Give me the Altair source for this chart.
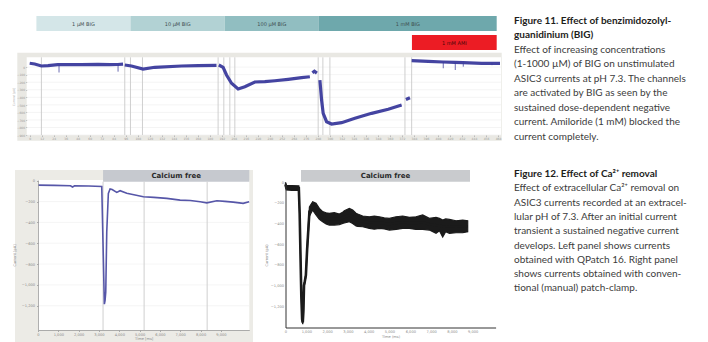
import altair as alt
import pandas as pd

# ---------------- data ----------------
# Figure 11: application bars (recording time, s)
conc_labels = ["1 µM BIG", "10 µM BIG", "100 µM BIG", "1 mM BIG"]
conc_start = [6.7, 100.7, 195, 289]
conc_end = [100.7, 195, 289, 466.7]
conc_colors = ["#d4e6e8", "#b2d2d4", "#91bec1", "#6ea8ac"]
ami_labels = ["1 mM AMI"]
ami_start = [382]
ami_end = [466.7]

# Figure 11: QPatch current trace, per sweep (time s, current pA)
s1_t = [0, 5, 11.7, 18.3, 28, 35, 51.7, 68.3, 80, 88, 93.3]
s1_v = [50, 40, 14, 18, 31, 31, 31, 36, 31, 34, 40]
s2_t = [95, 101.7, 113.3, 125, 151.7, 168.3, 186.7]
s2_v = [27, 14, -26, -3, 14, 18, 23]
s3_t = [189, 193.3, 196.7, 201.7, 208.3, 215, 225, 235, 245, 258.3, 271.7, 280]
s3_v = [27, -3, -105, -215, -291, -260, -198, -194, -181, -162, -141, -128]
s3b_t = [282.5, 284.5, 287]
s3b_v = [-75, -55, -80]
s4_t = [290, 291.7, 293.3, 296.7, 301.7, 311.7, 325, 341.7, 358.3, 371.7]
s4_v = [-172, -437, -613, -724, -755, -737, -679, -613, -560, -503]
s4b_t = [376, 380]
s4b_v = [-430, -406]
s5_t = [381.7, 398.3, 413, 425, 433, 451.7, 470]
s5_v = [84, 76, 67, 63, 60, 50, 50]
# brief downward spikes (time, baseline, tip)
spike_t = [29.3, 88.3, 413.3, 425.3, 433.3, 462]
spike_base = [31, 34, 67, 63, 60, 55]
spike_tip = [-72, -61, -16, -39, 5, 25]
top_sweep_lines = [11.7, 95, 100.7, 112.7, 188.3, 194, 200, 205, 288.3, 293, 300, 375, 381.7]
top_yticks = [0, -100, -200, -300, -400, -500, -600, -700, -800, -900]

# Figure 12 left: QPatch 16 (time ms, current pA)
bl_t = [0, 800, 1600, 1700, 1800, 2500, 3138, 3200, 3266, 3300, 3335, 3384, 3463, 3547, 3650,
        3877, 4039, 4369, 5187, 5700, 6340, 6995, 7500, 7980, 8310, 8803, 9200, 9606, 10099, 10394]
bl_v = [-42, -45, -48, -60, -48, -50, -55, -600, -1185, -1150, -1067, -490, -121, -80, -85,
        -112, -96, -121, -154, -160, -169, -186, -190, -202, -212, -192, -198, -205, -217, -202]
bl_sweep_lines = [3202, 5222, 8325]
bl_ca_free = [3202, 10400]

# Figure 12 right: manual patch-clamp (time ms, current pA; noisy band upper/lower edge)
br_t = [0, 40, 300, 640, 680, 720, 760, 800, 830, 860, 890, 930, 980, 1040, 1100, 1150, 1306,
        1466, 1627, 1787, 1950, 2107, 2348, 2588, 2749, 2829, 3069, 3229, 3390, 3470, 3710, 4031,
        4270, 4512, 4750, 4992, 5313, 5633, 5954, 6274, 6595, 6915, 7236, 7400, 7557, 7700, 7877,
        8198, 8518, 8759]
br_mid = [-20, -55, -55, -55, -300, -700, -1100, -1330, -1360, -1250, -1000, -960, -900, -650,
          -450, -285, -228, -260, -306, -333, -350, -358, -355, -359, -344, -335, -318, -335, -362,
          -368, -379, -390, -392, -390, -398, -406, -395, -387, -393, -395, -387, -406, -417, -420,
          -430, -428, -427, -431, -427, -426]
br_hi = [0, -30, -32, -35, -285, -685, -1085, -1315, -1345, -1235, -985, -945, -885, -620, -410,
         -240, -188, -204, -253, -285, -295, -301, -295, -308, -290, -275, -253, -269, -300, -308,
         -327, -334, -328, -334, -345, -350, -334, -327, -340, -334, -317, -350, -340, -350, -366,
         -355, -360, -373, -366, -373]
br_lo = [-40, -75, -78, -75, -315, -715, -1115, -1345, -1375, -1265, -1015, -975, -915, -680,
         -490, -330, -269, -317, -360, -382, -405, -415, -415, -410, -398, -395, -382, -400, -424,
         -428, -431, -447, -455, -447, -452, -463, -457, -447, -447, -457, -457, -463, -495, -470,
         -530, -480, -495, -489, -489, -479]
br_ca_free = [745, 8870]
ms_ticks = [0, 1000, 2000, 3000, 4000, 5000, 6000, 7000, 8000, 9000]
pa_ticks = [0, -200, -400, -600, -800, -1000, -1200]

fig11_title = ["Figure 11. Effect of benzimidozolyl-", "guanidinium (BIG)"]
fig11_body = ["Effect of increasing concentrations", "(1-1000 µM) of BIG on unstimulated",
              "ASIC3 currents at pH 7.3. The channels", "are activated by BIG as seen by the",
              "sustained dose-dependent negative", "current. Amiloride (1 mM) blocked the",
              "current completely."]
fig12_title = ["Figure 12. Effect of Ca²⁺ removal"]
fig12_body = ["Effect of extracellular Ca²⁺ removal on", "ASIC3 currents recorded at an extracel-",
              "lular pH of 7.3. After an initial current", "transient a sustained negative current",
              "develops. Left panel shows currents", "obtained with QPatch 16. Right panel",
              "shows currents obtained with conven-", "tional (manual) patch-clamp."]

# ---------------- chart ----------------
W, H = 692, 334
one = pd.DataFrame({"k": [0]})
FONT = "DejaVu Sans"


def box(x0, y0, x1, y1, color, **kw):
    # page pixel layout boxes (panel backgrounds)
    return alt.Chart(one).mark_rect(color=color, **kw).encode(
        x=alt.value(x0 - 8), x2=alt.value(x1 - 8), y=alt.value(y0 - 8), y2=alt.value(y1 - 8))


def sc(domain, rng):
    return alt.Scale(domain=domain, range=rng, nice=False, zero=False)


top_x = lambda: sc([-3, 471], [18.7, 493])
top_y = lambda: sc([-900, 120], [127, 50])
bl_x = lambda: sc([0, 10400], [30, 241.3])
bl_y = lambda: sc([-1433, 7], [322, 172])
br_x = lambda: sc([0, 10100], [277.5, 487.6])
br_y = lambda: sc([-1408, 0], [319.5, 174.3])

layers = []

# ---- Figure 11 ----
conc_df = pd.DataFrame({"label": conc_labels, "start": conc_start, "end": conc_end, "color": conc_colors})
layers.append(alt.Chart(conc_df).mark_rect().encode(
    x=alt.X("start:Q", scale=top_x(), axis=None), x2="end:Q",
    y=alt.value(8), y2=alt.value(23), color=alt.Color("color:N", scale=None)))
layers.append(alt.Chart(conc_df).mark_text(fontSize=5, font=FONT, color="#3f4f51").transform_calculate(
    mid="(datum.start + datum.end) / 2").encode(
    x=alt.X("mid:Q", scale=top_x(), axis=None), y=alt.value(15.5), text="label:N"))
ami_df = pd.DataFrame({"label": ami_labels, "start": ami_start, "end": ami_end})
layers.append(alt.Chart(ami_df).mark_rect(color="#ec1c24").encode(
    x=alt.X("start:Q", scale=top_x(), axis=None), x2="end:Q",
    y=alt.value(27), y2=alt.value(42)))
layers.append(alt.Chart(ami_df).mark_text(fontSize=5, font=FONT, color="#4a0608").transform_calculate(
    mid="(datum.start + datum.end) / 2").encode(
    x=alt.X("mid:Q", scale=top_x(), axis=None), y=alt.value(34.5), text="label:N"))

layers.append(box(17.3, 52.7, 501.7, 140.7, "#e9e8e3"))
layers.append(box(26.7, 57.3, 501, 135, "#ffffff"))

tl_df = pd.DataFrame({"v": top_yticks})
layers.append(alt.Chart(tl_df).mark_rule(color="#f1f1f1", strokeWidth=0.8).encode(
    y=alt.Y("v:Q", scale=top_y(), axis=None), x=alt.value(18.7), x2=alt.value(493)))
sl_df = pd.DataFrame({"t": top_sweep_lines})
layers.append(alt.Chart(sl_df).mark_rule(color="#c9c9c9", strokeWidth=0.9).encode(
    x=alt.X("t:Q", scale=top_x(), axis=None), y=alt.value(49.3), y2=alt.value(127)))

rows = []
for name, ts, vs in [("s1", s1_t, s1_v), ("s2", s2_t, s2_v), ("s3", s3_t, s3_v), ("s3b", s3b_t, s3b_v),
                     ("s4", s4_t, s4_v), ("s4b", s4b_t, s4b_v), ("s5", s5_t, s5_v)]:
    for t, v in zip(ts, vs):
        rows.append({"sweep": name, "t": t, "v": v})
top_df = pd.DataFrame(rows)
spk_df = pd.DataFrame({"t": spike_t, "base": spike_base, "tip": spike_tip})
layers.append(alt.Chart(spk_df).mark_rule(color="#5a5aa8", strokeWidth=0.9).encode(
    x=alt.X("t:Q", scale=top_x(), axis=None),
    y=alt.Y("base:Q", scale=top_y(), axis=None), y2="tip:Q"))
layers.append(alt.Chart(top_df).mark_line(color="#3a3a9c", strokeWidth=3.2, opacity=0.95).encode(
    x=alt.X("t:Q", scale=top_x(), axis=alt.Axis(
        orient="bottom", offset=127 - H, values=list(range(0, 471, 12)), labelFontSize=3,
        labelColor="#9a9a9a", labelFont=FONT, tickSize=1.5, tickColor="#bbbbbb", domain=False,
        labelPadding=1, title=None, grid=False, labelOverlap=False, labelFlush=False, zindex=2)),
    y=alt.Y("v:Q", scale=top_y(), axis=alt.Axis(
        orient="left", offset=-18.7, values=top_yticks, labelFontSize=3, labelColor="#9a9a9a",
        labelFont=FONT, tickSize=1, tickColor="#bbbbbb", domain=False, labelPadding=1,
        title="Current [pA]", titleFontSize=3, titleColor="#aaaaaa", titleFont=FONT,
        titleFontWeight="normal", titlePadding=1.5, grid=False, labelOverlap=False,
        labelFlush=False, zindex=2)),
    detail="sweep:N"))

# ---- Figure 12 left (QPatch) ----
layers.append(box(15, 170, 253, 345, "#ecebe6"))
layers.append(box(38, 180, 249.3, 330, "#ffffff"))
bh_df = pd.DataFrame({"label": ["Calcium free"], "start": [bl_ca_free[0]], "end": [bl_ca_free[1]]})
layers.append(alt.Chart(bh_df).mark_rect(color="#c6c9cf").encode(
    x=alt.X("start:Q", scale=bl_x(), axis=None), x2="end:Q", y=alt.value(162), y2=alt.value(173.7)))
layers.append(alt.Chart(bh_df).mark_text(fontSize=7, font=FONT, fontWeight="bold", color="#2a2a2a").transform_calculate(
    mid="(datum.start + datum.end) / 2").encode(
    x=alt.X("mid:Q", scale=bl_x(), axis=None), y=alt.value(168.3), text="label:N"))
bgl_df = pd.DataFrame({"v": pa_ticks[1:]})
layers.append(alt.Chart(bgl_df).mark_rule(color="#f2f2f2", strokeWidth=0.8).encode(
    y=alt.Y("v:Q", scale=bl_y(), axis=None), x=alt.value(30), x2=alt.value(241.3)))
bsl_df = pd.DataFrame({"t": bl_sweep_lines})
layers.append(alt.Chart(bsl_df).mark_rule(color="#cfcfcf", strokeWidth=1).encode(
    x=alt.X("t:Q", scale=bl_x(), axis=None), y=alt.value(173.7), y2=alt.value(322)))
bl_df = pd.DataFrame({"t": bl_t, "v": bl_v})
layers.append(alt.Chart(bl_df).mark_line(color="#5656a8", strokeWidth=1.6).encode(
    x=alt.X("t:Q", scale=bl_x(), axis=alt.Axis(
        orient="bottom", offset=322 - H, values=ms_ticks, labelFontSize=3.6, labelColor="#8a8a8a",
        labelFont=FONT, tickSize=1.5, tickColor="#aaaaaa", domainColor="#9a9a9a", domainWidth=0.8,
        labelPadding=1, title="Time [ms]", titleFontSize=3.6, titleColor="#8a8a8a", titleFont=FONT,
        titleFontWeight="normal", titlePadding=0.5, grid=False, labelOverlap=False, labelFlush=False,
        zindex=2)),
    y=alt.Y("v:Q", scale=bl_y(), axis=alt.Axis(
        orient="left", offset=-30, values=pa_ticks, labelFontSize=3.6, labelColor="#8a8a8a",
        labelFont=FONT, tickSize=1.5, tickColor="#aaaaaa", domainColor="#9a9a9a", domainWidth=0.8,
        labelPadding=2, title="Current [pA]", titleFontSize=3.6, titleColor="#8a8a8a", titleFont=FONT,
        titleFontWeight="normal", titlePadding=5, grid=False, labelOverlap=False, labelFlush=False,
        zindex=2))))

# ---- Figure 12 right (manual patch clamp) ----
rh_df = pd.DataFrame({"label": ["Calcium free"], "start": [br_ca_free[0]], "end": [br_ca_free[1]]})
layers.append(alt.Chart(rh_df).mark_rect(color="#c9cbce").encode(
    x=alt.X("start:Q", scale=br_x(), axis=None), x2="end:Q", y=alt.value(162), y2=alt.value(173.7)))
layers.append(alt.Chart(rh_df).mark_text(fontSize=7, font=FONT, fontWeight="bold", color="#2a2a2a").transform_calculate(
    mid="(datum.start + datum.end) / 2").encode(
    x=alt.X("mid:Q", scale=br_x(), axis=None), y=alt.value(168.3), text="label:N"))
br_df = pd.DataFrame({"t": br_t, "mid": br_mid, "hi": br_hi, "lo": br_lo})
layers.append(alt.Chart(br_df).mark_area(color="#1b1b1b", opacity=1, stroke="#1b1b1b", strokeWidth=1.2).encode(
    x=alt.X("t:Q", scale=br_x(), axis=None),
    y=alt.Y("hi:Q", scale=br_y(), axis=None), y2="lo:Q"))
layers.append(alt.Chart(br_df).mark_line(color="#1b1b1b", strokeWidth=2.6).encode(
    x=alt.X("t:Q", scale=br_x(), axis=alt.Axis(
        orient="bottom", offset=319.5 - H, values=ms_ticks, labelFontSize=3.6, labelColor="#8a8a8a",
        labelFont=FONT, tickSize=0, domainColor="#333333", domainWidth=1,
        labelPadding=2, title="Time (ms)", titleFontSize=3.6, titleColor="#8a8a8a", titleFont=FONT,
        titleFontWeight="normal", titlePadding=1, grid=False, labelOverlap=False, labelFlush=False,
        zindex=2)),
    y=alt.Y("mid:Q", scale=br_y(), axis=alt.Axis(
        orient="left", offset=-277.5, values=pa_ticks, labelFontSize=3.6, labelColor="#8a8a8a",
        labelFont=FONT, tickSize=0, domainColor="#333333", domainWidth=1,
        labelPadding=2, title="Current (pA)", titleFontSize=3.6, titleColor="#8a8a8a", titleFont=FONT,
        titleFontWeight="normal", titlePadding=1.5, grid=False, labelOverlap=False, labelFlush=False,
        zindex=2))))

# ---- captions ----
def caption(lines, first_idx, n_total, y0, y1, bold):
    df = pd.DataFrame({"i": list(range(first_idx, first_idx + len(lines))), "line": lines})
    return alt.Chart(df).mark_text(
        align="left", baseline="middle", font="Lato", fontSize=10,
        fontWeight="bold" if bold else "normal", color="#1d1d1b" if bold else "#3c3c3c").encode(
        x=alt.value(506), y=alt.Y("i:Q", scale=sc([0, n_total - 1], [y0, y1]), axis=None),
        text="line:N")

layers.append(caption(fig11_title, 0, 9, 12.7, 128.7, True))
layers.append(caption(fig11_body, 2, 9, 12.7, 128.7, False))
layers.append(caption(fig12_title, 0, 9, 166, 280.4, True))
layers.append(caption(fig12_body, 1, 9, 166, 280.4, False))

chart = alt.layer(*layers).resolve_scale(x="independent", y="independent").resolve_axis(
    x="independent", y="independent").properties(
    width=W, height=H, padding=0, autosize=alt.AutoSizeParams(type="none"), background="#ffffff"
).configure_view(stroke=None)

chart.save("out.html", embed_options={"renderer": "svg", "actions": False})
